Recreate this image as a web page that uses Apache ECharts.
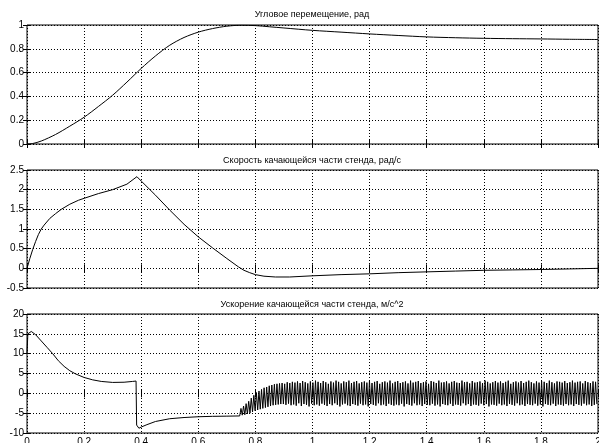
<!DOCTYPE html>
<html>
<head>
<meta charset="utf-8">
<script src="https://cdn.jsdelivr.net/npm/echarts@6/dist/echarts.min.js"></script>
<style>
html,body{margin:0;padding:0;background:#fff;}
#c{width:599px;height:443px;}
</style>
</head>
<body>
<div id="c"></div>
<script>
// ---------- data ----------
const titles = ['Угловое перемещение, рад', 'Скорость качающейся части стенда, рад/с', 'Ускорение качающейся части стенда, м/с^2'];

const angleT = [0, 0.02, 0.05, 0.1, 0.15, 0.2, 0.25, 0.3, 0.35, 0.4, 0.45, 0.5, 0.55, 0.6, 0.65, 0.7, 0.75, 0.8, 0.85, 0.9, 1.0, 1.1, 1.2, 1.3, 1.4, 1.5, 1.6, 1.7, 1.8, 1.9, 2.0];
const angleV = [0, 0.004, 0.025, 0.08, 0.15, 0.225, 0.315, 0.41, 0.52, 0.635, 0.74, 0.83, 0.895, 0.94, 0.97, 0.99, 0.998, 0.995, 0.985, 0.975, 0.955, 0.94, 0.925, 0.912, 0.9, 0.893, 0.888, 0.885, 0.883, 0.88, 0.878];

const velT = [0, 0.01, 0.02, 0.03, 0.04, 0.05, 0.06, 0.08, 0.1, 0.12, 0.15, 0.18, 0.2, 0.25, 0.3, 0.35, 0.385, 0.4, 0.45, 0.5, 0.55, 0.6, 0.65, 0.7, 0.74, 0.76, 0.78, 0.8, 0.83, 0.87, 0.92, 1.0, 1.1, 1.2, 1.3, 1.4, 1.5, 1.6, 1.7, 1.8, 1.9, 2.0];
const velV = [0, 0.25, 0.48, 0.68, 0.86, 1.0, 1.1, 1.27, 1.39, 1.5, 1.63, 1.73, 1.78, 1.9, 2.0, 2.14, 2.33, 2.22, 1.86, 1.48, 1.12, 0.8, 0.52, 0.25, 0.04, -0.05, -0.11, -0.16, -0.2, -0.22, -0.22, -0.19, -0.16, -0.14, -0.11, -0.09, -0.07, -0.05, -0.04, -0.03, -0.015, 0.0];

const accT = [0, 0.003, 0.01, 0.015, 0.02, 0.03, 0.05, 0.07, 0.09, 0.11, 0.13, 0.15, 0.17, 0.2, 0.23, 0.26, 0.3, 0.34, 0.37, 0.382, 0.384, 0.392, 0.4, 0.42, 0.45, 0.5, 0.55, 0.6, 0.65, 0.7, 0.745];
const accV = [10, 15, 15.5, 15.6, 15.4, 14.8, 13.2, 11.6, 10.0, 8.2, 6.8, 5.7, 4.9, 4.0, 3.4, 3.0, 2.75, 2.8, 3.0, 3.1, -8.0, -8.8, -8.5, -7.9, -7.1, -6.4, -6.1, -5.9, -5.8, -5.75, -5.7];

// oscillation after t = 0.745 s: successive peaks and troughs
const oscStart = 0.745;
const oscHalfStep = 0.0045;
const oscPeaks = [
 -3.8, -3.2, -2.6, -2.0, -1.2, -0.5, 0.2, 0.6, 1.0, 1.4,
 1.6, 1.9, 2.1, 2.3, 2.4, 2.5, 2.6, 2.4, 2.8, 2.6,
 2.9, 2.7, 3.0, 2.6, 3.1, 2.8, 2.5, 3.0, 2.7, 3.2,
 2.9, 2.6, 3.1, 2.8, 2.4, 3.0, 2.7, 3.2, 2.9, 2.5,
 3.0, 2.8, 3.2, 2.6, 2.9, 3.1, 2.5, 2.8, 3.0, 2.7,
 3.2, 2.6, 2.9, 3.1, 2.4, 2.8, 3.0, 2.7, 3.2, 2.5,
 2.9, 3.1, 2.6, 2.8, 3.0, 2.5, 3.2, 2.7, 2.9, 3.1,
 2.6, 2.8, 3.0, 2.4, 3.1, 2.9, 2.6, 3.2, 2.7, 2.8,
 3.0, 2.5, 2.9, 3.1, 2.7, 2.6, 3.2, 2.8, 2.9, 2.5,
 3.1, 2.7, 2.8, 3.0, 2.6, 3.2, 2.9, 2.5, 2.8, 3.1,
 2.7, 3.0, 2.6, 2.9, 3.2, 2.4, 2.8, 3.0, 2.7, 3.1,
 2.6, 2.9, 3.2, 2.8, 2.5, 3.0, 2.7, 3.1, 2.9, 2.6,
 3.2, 2.8, 2.5, 3.0, 2.9, 2.7, 3.1, 2.6, 2.8, 3.2,
 2.7, 2.9, 3.0, 2.5, 3.1, 2.8, 2.6, 3.0, 2.9
];
const oscTroughs = [
 -5.5, -5.4, -5.2, -5.0, -4.7, -4.4, -4.2, -4.0, -3.8, -3.6,
 -3.4, -3.2, -3.0, -2.9, -2.8, -2.7, -2.7, -2.9, -2.6, -3.0,
 -2.8, -3.1, -2.5, -3.2, -2.7, -2.9, -3.3, -2.6, -3.0, -2.8,
 -3.1, -2.6, -2.9, -3.2, -2.7, -3.0, -2.5, -2.9, -3.3, -2.8,
 -2.6, -3.0, -3.2, -2.7, -2.9, -3.1, -2.6, -3.0, -2.8, -3.3,
 -2.7, -2.9, -3.1, -2.5, -3.0, -2.8, -3.2, -2.6, -2.9, -3.1,
 -2.8, -3.0, -2.6, -3.3, -2.7, -2.9, -3.1, -2.5, -3.0, -2.8,
 -3.2, -2.7, -2.9, -3.0, -2.6, -3.1, -2.8, -3.3, -2.7, -2.9,
 -3.0, -2.6, -3.2, -2.8, -2.9, -3.1, -2.5, -3.0, -2.7, -3.2,
 -2.8, -2.9, -3.1, -2.6, -3.0, -2.7, -3.3, -2.8, -2.9, -3.1,
 -2.6, -3.0, -2.8, -3.2, -2.7, -2.9, -3.1, -2.5, -3.0, -2.8,
 -3.2, -2.7, -2.9, -3.0, -2.6, -3.1, -2.8, -3.3, -2.7, -2.9,
 -3.0, -2.6, -3.2, -2.8, -2.9, -3.1, -2.7, -3.0, -2.8, -3.2,
 -2.7, -2.9, -3.1, -2.6, -3.0, -2.8, -3.2, -2.9, -2.7
];

const xTicks = {min: 0, max: 2, interval: 0.2};
const yRanges = [
  {min: 0, max: 1, interval: 0.2},
  {min: -0.5, max: 2.5, interval: 0.5},
  {min: -10, max: 20, interval: 5}
];

// ---------- build ----------
function pairs(t, v) { return t.map((x, i) => [x, v[i]]); }
const accData = pairs(accT, accV);
for (let i = 0; i < oscPeaks.length; i++) {
  accData.push([+(oscStart + (2 * i + 1) * oscHalfStep).toFixed(5), oscPeaks[i]]);
  accData.push([+(oscStart + (2 * i + 2) * oscHalfStep).toFixed(5), oscTroughs[i]]);
}
const seriesData = [pairs(angleT, angleV), pairs(velT, velV), accData];

const FONT = 'Liberation Sans, Arial, sans-serif';
const grids = [
  {left: 27, right: 1, top: 25, height: 119},
  {left: 27, right: 1, top: 170, height: 118},
  {left: 27, right: 1, top: 314, height: 119}
];
const titleTops = [10.5, 156, 300.5];

const option = {
  animation: false,
  backgroundColor: '#fff',
  title: titles.map((t, i) => ({
    text: t, left: 312, top: titleTops[i], textAlign: 'center', padding: 0,
    textStyle: {fontFamily: FONT, fontSize: 9, fontWeight: 'normal', color: '#000'}
  })),
  grid: grids.map(g => Object.assign({show: true, borderColor: '#000', borderWidth: 1, backgroundColor: '#fff', outerBoundsMode: 'none'}, g)),
  xAxis: [],
  yAxis: [],
  series: []
};

const tickStyle = {show: true, inside: true, length: 4, lineStyle: {color: '#000', width: 1}};
const gridLine = {show: true, lineStyle: {color: '#000', width: 1, type: [1, 2]}};

for (let g = 0; g < 3; g++) {
  option.xAxis.push({
    type: 'value', gridIndex: g, position: 'bottom', min: xTicks.min, max: xTicks.max, interval: xTicks.interval,
    axisLine: {show: false}, axisTick: tickStyle, splitLine: gridLine,
    axisLabel: {show: g === 2, margin: 4, fontSize: 10, color: '#000', fontFamily: FONT}
  });
  option.xAxis.push({
    type: 'value', gridIndex: g, position: 'top', min: xTicks.min, max: xTicks.max, interval: xTicks.interval,
    axisLine: {show: false}, axisTick: tickStyle, splitLine: {show: false}, axisLabel: {show: false}
  });
  option.yAxis.push({
    type: 'value', gridIndex: g, position: 'left', min: yRanges[g].min, max: yRanges[g].max, interval: yRanges[g].interval,
    axisLine: {show: false}, axisTick: tickStyle, splitLine: gridLine,
    axisLabel: {show: true, margin: 3, fontSize: 10, color: '#000', fontFamily: FONT}
  });
  option.yAxis.push({
    type: 'value', gridIndex: g, position: 'right', min: yRanges[g].min, max: yRanges[g].max, interval: yRanges[g].interval,
    axisLine: {show: false}, axisTick: tickStyle, splitLine: {show: false}, axisLabel: {show: false}
  });
  option.series.push({
    type: 'line', xAxisIndex: 2 * g, yAxisIndex: 2 * g, data: seriesData[g],
    showSymbol: false, symbol: 'none', smooth: g === 0 ? 0.3 : false,
    lineStyle: {color: '#000', width: 1}, clip: true, z: 5
  });
}

const chart = echarts.init(document.getElementById('c'), null, {renderer: 'canvas'});
chart.setOption(option);
</script>
</body>
</html>
